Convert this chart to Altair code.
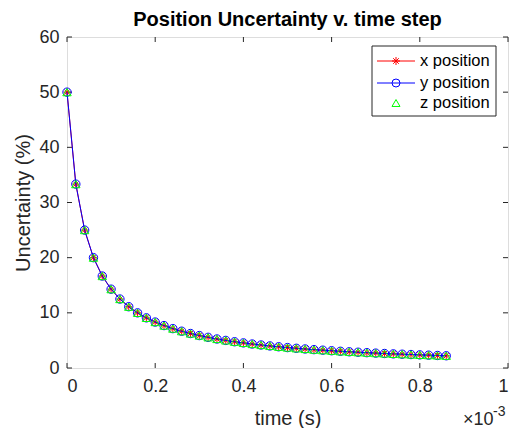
import altair as alt
import pandas as pd

# ---- data (time in units of 1e-3 s) ----
time_ms = [0.00, 0.02, 0.04, 0.06, 0.08, 0.10, 0.12, 0.14, 0.16, 0.18,
           0.20, 0.22, 0.24, 0.26, 0.28, 0.30, 0.32, 0.34, 0.36, 0.38,
           0.40, 0.42, 0.44, 0.46, 0.48, 0.50, 0.52, 0.54, 0.56, 0.58,
           0.60, 0.62, 0.64, 0.66, 0.68, 0.70, 0.72, 0.74, 0.76, 0.78,
           0.80, 0.82, 0.84, 0.86]
x_unc = [50.0, 33.33, 25.0, 20.0, 16.67, 14.29, 12.5, 11.11, 10.0, 9.09,
         8.33, 7.69, 7.14, 6.67, 6.25, 5.88, 5.56, 5.26, 5.0, 4.76,
         4.55, 4.35, 4.17, 4.0, 3.85, 3.70, 3.57, 3.45, 3.33, 3.23,
         3.13, 3.03, 2.94, 2.86, 2.78, 2.70, 2.63, 2.56, 2.50, 2.44,
         2.38, 2.33, 2.27, 2.22]
y_unc = [50.0, 33.33, 25.0, 20.0, 16.67, 14.29, 12.5, 11.11, 10.0, 9.09,
         8.33, 7.69, 7.14, 6.67, 6.25, 5.88, 5.56, 5.26, 5.0, 4.76,
         4.55, 4.35, 4.17, 4.0, 3.85, 3.70, 3.57, 3.45, 3.33, 3.23,
         3.13, 3.03, 2.94, 2.86, 2.78, 2.70, 2.63, 2.56, 2.50, 2.44,
         2.38, 2.33, 2.27, 2.22]
z_unc = [50.0, 33.33, 25.0, 20.0, 16.67, 14.29, 12.5, 11.11, 10.0, 9.09,
         8.33, 7.69, 7.14, 6.67, 6.25, 5.88, 5.56, 5.26, 5.0, 4.76,
         4.55, 4.35, 4.17, 4.0, 3.85, 3.70, 3.57, 3.45, 3.33, 3.23,
         3.13, 3.03, 2.94, 2.86, 2.78, 2.70, 2.63, 2.56, 2.50, 2.44,
         2.38, 2.33, 2.27, 2.22]
x_ticks = [0, 0.2, 0.4, 0.6, 0.8, 1.0]
y_ticks = [0, 10, 20, 30, 40, 50, 60]
legend_labels = ["x position", "y position", "z position"]

W, H = 441, 331
FONT = "Liberation Sans"
DARK = "#262626"
ASTERISK = "M-1,0L1,0M0,-1L0,1M-0.7,-0.7L0.7,0.7M-0.7,0.7L0.7,-0.7"

xs = alt.Scale(domain=[0, 1], nice=False, zero=False)
ys = alt.Scale(domain=[0, 60], nice=False)

x_axis = alt.Axis(values=x_ticks, format="~g", tickSize=0, domain=False, grid=False,
                  labelFont=FONT, labelFontSize=18, labelColor=DARK, labelPadding=9,
                  title="time (s)", titleFont=FONT, titleFontSize=20, titleColor=DARK,
                  titleFontWeight="normal", titlePadding=13)
y_axis = alt.Axis(values=y_ticks, tickSize=0, domain=False, grid=False,
                  labelFont=FONT, labelFontSize=18, labelColor=DARK, labelPadding=8,
                  title="Uncertainty (%)", titleFont=FONT, titleFontSize=20, titleColor=DARK,
                  titleFontWeight="normal", titlePadding=5)


def enc_x(field):
    return alt.X(field, scale=xs, axis=x_axis)


def enc_y(field):
    return alt.Y(field, scale=ys, axis=y_axis)


dfx = pd.DataFrame({"t": time_ms, "u": x_unc})
dfy = pd.DataFrame({"t": time_ms, "u": y_unc})
dfz = pd.DataFrame({"t": time_ms, "u": z_unc})

red_line = alt.Chart(dfx).mark_line(color="#FF0000", strokeWidth=1).encode(x=enc_x("t:Q"), y=enc_y("u:Q"))
red_pts = alt.Chart(dfx).mark_point(shape=ASTERISK, color="#FF0000", filled=False, size=49,
                                    strokeWidth=1, opacity=1).encode(x=enc_x("t:Q"), y=enc_y("u:Q"))
blue_line = alt.Chart(dfy).mark_line(color="#0000FF", strokeWidth=1).encode(x=enc_x("t:Q"), y=enc_y("u:Q"))
blue_pts = alt.Chart(dfy).mark_point(shape="circle", color="#0000FF", filled=False, size=70,
                                     strokeWidth=1, opacity=1).encode(x=enc_x("t:Q"), y=enc_y("u:Q"))
green_pts = alt.Chart(dfz).mark_point(shape="triangle-up", color="#00FF00", filled=False, size=70,
                                      strokeWidth=1, opacity=1).encode(x=enc_x("t:Q"), y=enc_y("u:Q"))

# inward ticks on all four sides
xt = pd.DataFrame({"v": x_ticks})
yt = pd.DataFrame({"v": y_ticks})
tick_b = alt.Chart(xt).mark_rule(color=DARK, strokeWidth=1).encode(x=enc_x("v:Q"), y=alt.value(H), y2=alt.value(H - 5))
tick_t = alt.Chart(xt).mark_rule(color=DARK, strokeWidth=1).encode(x=enc_x("v:Q"), y=alt.value(0), y2=alt.value(5))
tick_l = alt.Chart(yt).mark_rule(color=DARK, strokeWidth=1).encode(y=enc_y("v:Q"), x=alt.value(0), x2=alt.value(5))
tick_r = alt.Chart(yt).mark_rule(color=DARK, strokeWidth=1).encode(y=enc_y("v:Q"), x=alt.value(W), x2=alt.value(W - 5))

# exponent label
one = pd.DataFrame({"a": [0]})
exp_base = alt.Chart(one).mark_text(text="×10", font=FONT, fontSize=18, color=DARK, align="left",
                                    baseline="middle").encode(x=alt.value(396), y=alt.value(383))
exp_pow = alt.Chart(one).mark_text(text="-3", font=FONT, fontSize=14, color=DARK, align="left",
                                   baseline="middle").encode(x=alt.value(426), y=alt.value(375))

# legend
leg_df = pd.DataFrame({"label": legend_labels})
leg_box = alt.Chart(one).mark_rect(fill="white", stroke=DARK, strokeWidth=1).encode(
    x=alt.value(305), x2=alt.value(429), y=alt.value(9), y2=alt.value(79))
rows = [24, 46, 66]
leg_layers = [leg_box]
leg_layers.append(alt.Chart(one).mark_rule(color="#FF0000", strokeWidth=1).encode(
    x=alt.value(310), x2=alt.value(348), y=alt.value(rows[0])))
leg_layers.append(alt.Chart(one).mark_point(shape=ASTERISK, color="#FF0000", filled=False, size=64,
                                            strokeWidth=1, opacity=1).encode(
    x=alt.value(329), y=alt.value(rows[0])))
leg_layers.append(alt.Chart(one).mark_rule(color="#0000FF", strokeWidth=1).encode(
    x=alt.value(310), x2=alt.value(348), y=alt.value(rows[1])))
leg_layers.append(alt.Chart(one).mark_point(shape="circle", color="#0000FF", filled=False, size=64,
                                            strokeWidth=1, opacity=1).encode(
    x=alt.value(329), y=alt.value(rows[1])))
leg_layers.append(alt.Chart(one).mark_point(shape="triangle-up", color="#00FF00", filled=False, size=64,
                                            strokeWidth=1, opacity=1).encode(
    x=alt.value(329), y=alt.value(rows[2])))
for i, lab in enumerate(legend_labels):
    leg_layers.append(alt.Chart(leg_df.iloc[[i]]).mark_text(font=FONT, fontSize=16.5, color="black", align="left",
                                                            baseline="middle").encode(
        text="label:N", x=alt.value(353), y=alt.value(rows[i])))

chart = alt.layer(
    tick_b, tick_t, tick_l, tick_r,
    red_line, red_pts, blue_line, blue_pts, green_pts,
    exp_base, exp_pow, *leg_layers
).properties(
    width=W, height=H,
    title=alt.Title("Position Uncertainty v. time step", font=FONT, fontSize=20, fontWeight="bold",
                    color="black", anchor="middle", offset=8, dy=10),
    autosize=alt.AutoSizeParams(type="none"),
    padding={"left": 67, "top": 37, "right": 4, "bottom": 60},
).configure_view(stroke=DARK, strokeWidth=1).configure(background="white")

chart.save("out.html", embed_options={"renderer": "svg", "actions": False})
